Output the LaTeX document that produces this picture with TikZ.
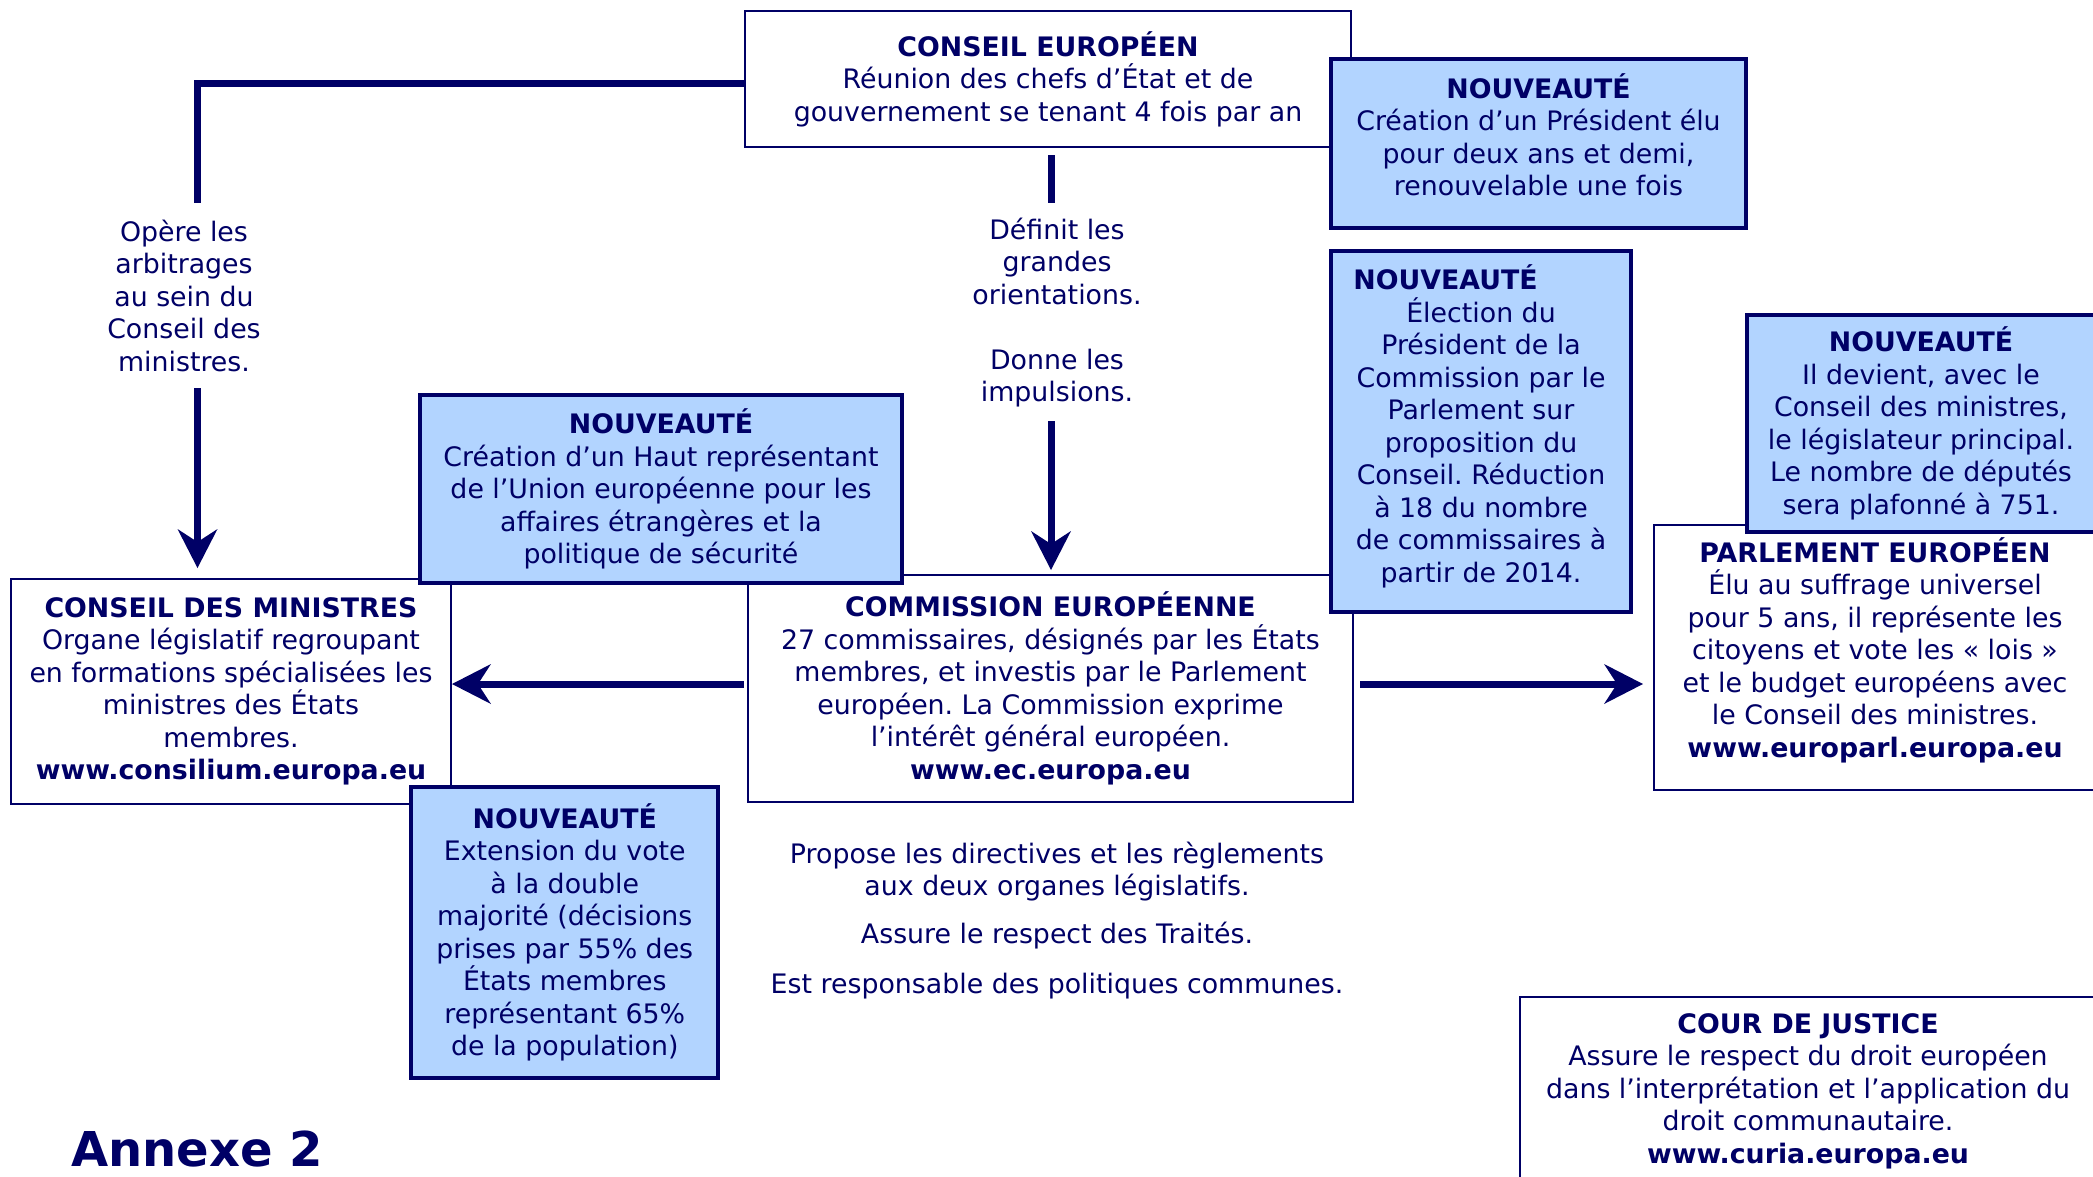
\documentclass[tikz,border=0pt]{standalone}
\usepackage{fontspec}
\setmainfont{DejaVu Sans}
\usetikzlibrary{arrows.meta}
\definecolor{navy}{RGB}{0,0,102}
\definecolor{newfill}{RGB}{178,212,255}
\tikzset{
  plainbox/.style={draw=navy, line width=2pt, fill=white, align=center, inner sep=0pt, text=navy},
  newbox/.style={draw=navy, line width=4pt, fill=newfill, align=center, inner sep=0pt, text=navy},
  conn/.style={draw=navy, line width=7pt},
  arr/.style={-{Stealth[length=39pt,width=40pt,inset=13pt,line width=0pt]}},
  lbl/.style={align=center, inner sep=0pt, text=navy},
}
\newcommand{\dpt}[1]{\rule[-#1]{0pt}{0pt}}
\frenchspacing
\begin{document}
\begin{tikzpicture}[x=1pt,y=-1pt,font=\fontsize{26.8pt}{32.5pt}\selectfont\frenchspacing]
\useasboundingbox (0,0) rectangle (2093,1176);
\clip (0,0) rectangle (2093,1176);
\fill[white] (0,0) rectangle (2093,1176);

% plain boxes
\node[plainbox, minimum width=606pt, minimum height=136pt] (ce) at (1048,79)
  {\textbf{CONSEIL EUROPÉEN}\\Réunion des chefs d’État et de\\gouvernement se tenant 4 fois par an};
\node[plainbox, minimum width=440pt, minimum height=225pt] (cm) at (231,691.5)
  {\textbf{CONSEIL DES MINISTRES}\\Organe législatif regroupant\\en formations spécialisées les\\ministres des États\\membres.\\\textbf{www.consilium.europa.eu}};
\node[plainbox, minimum width=605pt, minimum height=227pt] (com) at (1050.5,688.5)
  {\textbf{COMMISSION EUROPÉENNE}\\27 commissaires, désignés par les États\\membres, et investis par le Parlement\\européen. La Commission exprime\\l’intérêt général européen.\\\textbf{www.ec.europa.eu}\dpt{6pt}};
\node[plainbox, minimum width=442pt, minimum height=265pt] (pe) at (1875,657.5)
  {\textbf{PARLEMENT EUROPÉEN}\\Élu au suffrage universel\\pour 5 ans, il représente les\\citoyens et vote les « lois »\\et le budget européens avec\\le Conseil des ministres.\\\textbf{www.europarl.europa.eu}\dpt{20pt}};
\node[plainbox, minimum width=576pt, minimum height=188pt] (cj) at (1808,1091)
  {\textbf{COUR DE JUSTICE}\\Assure le respect du droit européen\\dans l’interprétation et l’application du\\droit communautaire.\\\textbf{www.curia.europa.eu}};

% nouveauté boxes
\node[newbox, minimum width=415pt, minimum height=169pt] (pr) at (1538.5,143.5)
  {\textbf{NOUVEAUTÉ}\\Création d’un Président élu\\pour deux ans et demi,\\renouvelable une fois\dpt{18pt}};
\node[newbox, minimum width=482pt, minimum height=188pt] (hr) at (661,489)
  {\textbf{NOUVEAUTÉ}\\Création d’un Haut représentant\\de l’Union européenne pour les\\affaires étrangères et la\\politique de sécurité};
\node[newbox, minimum width=300pt, minimum height=361pt] (el) at (1481,431.5)
  {\textbf{NOUVEAUTÉ}\rule{71pt}{0pt}\\Élection du\\Président de la\\Commission par le\\Parlement sur\\proposition du\\Conseil. Réduction\\à 18 du nombre\\de commissaires à\\partir de 2014.\dpt{16pt}};
\node[newbox, minimum width=348pt, minimum height=217pt] (np) at (1921,423.5)
  {\textbf{NOUVEAUTÉ}\\Il devient, avec le\\Conseil des ministres,\\le législateur principal.\\Le nombre de députés\\sera plafonné à 751.};
\node[newbox, minimum width=307pt, minimum height=291pt] (ex) at (564.75,932.5)
  {\textbf{NOUVEAUTÉ}\\Extension du vote\\à la double\\majorité (décisions\\prises par 55\% des\\États membres\\représentant 65\%\\de la population)\dpt{6pt}};

% labels
\node[lbl] (opere) at (184,295.5) {Opère les\\arbitrages\\au sein du\\Conseil des\\ministres.};
\node[lbl] (defin) at (1057,312.5) {Définit les\\grandes\\orientations.\\[32.5pt]Donne les\\impulsions.};
\node[lbl] (resp) at (1057,920.75) {Propose les directives et les règlements\\aux deux organes législatifs.\\[15.5pt]Assure le respect des Traités.\\[17.5pt]Est responsable des politiques communes.};
\node[lbl, anchor=base west, font=\fontsize{48pt}{58pt}\selectfont\bfseries] (annexe) at (71,1166) {Annexe 2};

% connectors
\coordinate (lA) at (197.5,203);
\coordinate (lB) at (197.5,388);
\coordinate (lC) at (197.5,568);
\coordinate (mA) at (1051,155);
\coordinate (mB) at (1051,203);
\coordinate (mC) at (1051,421);
\coordinate (mD) at (1051,570);
\coordinate (hy) at (0,684);
\draw[conn] ([yshift=-4pt]ce.west) -| (lA);
\draw[conn,arr] (lB) -- (lC);
\draw[conn] (mA) -- (mB);
\draw[conn,arr] (mC) -- (mD);
\draw[conn,arr] ([xshift=-3pt]com.west |- hy) -- (cm.east |- hy);
\draw[conn,arr] ([xshift=6pt]com.east |- hy) -- ([xshift=-10pt]pe.west |- hy);
\end{tikzpicture}
\end{document}
